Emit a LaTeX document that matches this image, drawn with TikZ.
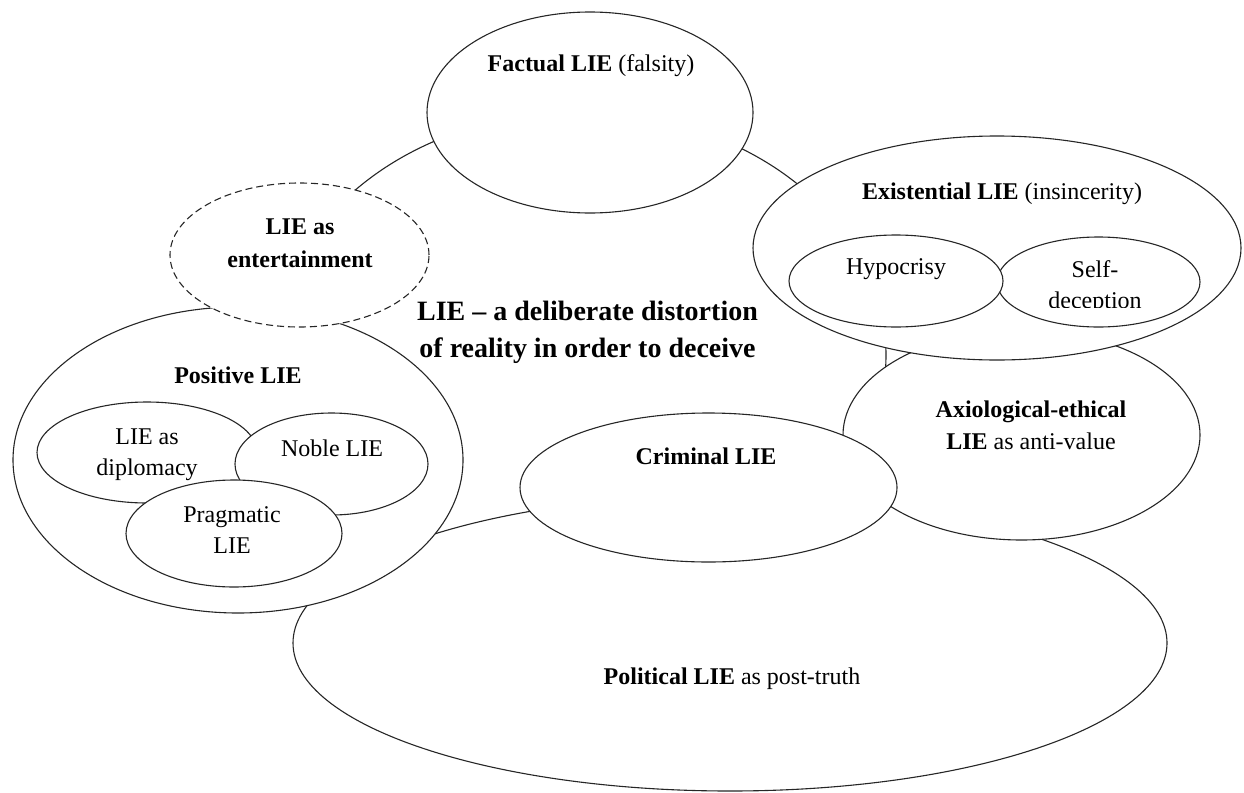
\documentclass[tikz,border=0pt]{standalone}
\usepackage{fontspec}
\setmainfont{Liberation Serif}
\usetikzlibrary{shapes.geometric}
\begin{document}
\begin{tikzpicture}[x=1pt,y=-1pt,
  blob/.style={ellipse, draw=black!85, line width=1.1pt, fill=white, inner sep=0pt, outer sep=0pt},
  dashblob/.style={blob, dash pattern=on 7pt off 4pt},
  lbl/.style={anchor=base, inner sep=0pt, font=\fontsize{24}{29}\selectfont},
  headline/.style={anchor=base, inner sep=0pt, font=\fontsize{28}{34}\selectfont\bfseries}]
\useasboundingbox (0,0) rectangle (1244,792);

% central notion
\node[blob, minimum width=612pt, minimum height=486pt] (core) at (580,355) {};

% political lie, lying under its neighbours
\node[blob, minimum width=874pt, minimum height=296pt] (polit) at (730,643) {};

% positive lie with its three kinds
\node[blob, minimum width=450pt, minimum height=306pt] (posit) at (238,460) {};
\node[blob, minimum width=220pt, minimum height=101pt] (diplo) at (147,452.5) {};
\node[blob, minimum width=193pt, minimum height=102pt] (noble) at (331.5,464) {};
\node[blob, minimum width=216pt, minimum height=107pt] (pragm) at (234,533.5) {};

% axiological-ethical lie
\node[blob, minimum width=357pt, minimum height=210pt] (axio) at (1021.5,435) {};

% existential lie with its two kinds
\node[blob, minimum width=488pt, minimum height=224pt] (exist) at (997,248) {};
\node[blob, minimum width=203pt, minimum height=90pt] (selfd) at (1098.5,282) {};
\node[blob, minimum width=214pt, minimum height=92pt] (hypoc) at (896,281) {};

% criminal lie
\node[blob, minimum width=377pt, minimum height=149pt] (crim) at (708.5,487.5) {};

% factual lie
\node[blob, minimum width=326pt, minimum height=201pt] (fact) at (590,112.5) {};

% lie as entertainment
\node[dashblob, minimum width=259pt, minimum height=144pt] (enter) at (299.5,255) {};

% labels
\node[headline] (defA) at (587.5,320) {LIE -- a deliberate distortion};
\node[headline] (defB) at (587.5,357) {of reality in order to deceive};

\node[lbl] (tFact) at (591,71) {\textbf{Factual LIE} (falsity)};
\node[lbl] (tEntA) at (300,234) {\textbf{LIE as}};
\node[lbl] (tEntB) at (300,267) {\textbf{entertainment}};
\node[lbl] (tExist) at (1002,199) {\textbf{Existential LIE} (insincerity)};
\node[lbl] (tHypoc) at (896,274) {Hypocrisy};
\node[lbl] (tSelfA) at (1095,277) {Self-};
\begin{scope}
  \clip (990,285) rectangle (1200,307);
  \node[lbl] (tSelfB) at (1095,308) {deception};
\end{scope}
\node[lbl] (tPosit) at (238,383) {\textbf{Positive LIE}};
\node[lbl] (tDipA) at (147,444) {LIE as};
\node[lbl] (tDipB) at (147,475) {diplomacy};
\node[lbl] (tNoble) at (332,456) {Noble LIE};
\node[lbl] (tPragA) at (232,522) {Pragmatic};
\node[lbl] (tPragB) at (232,553) {LIE};
\node[lbl] (tAxioA) at (1031,417) {\textbf{Axiological-ethical}};
\node[lbl] (tAxioB) at (1031,449) {\textbf{LIE} as anti-value};
\node[lbl] (tCrim) at (706,464) {\textbf{Criminal LIE}};
\node[lbl] (tPolit) at (732,684) {\textbf{Political LIE} as post-truth};
\end{tikzpicture}
\end{document}
